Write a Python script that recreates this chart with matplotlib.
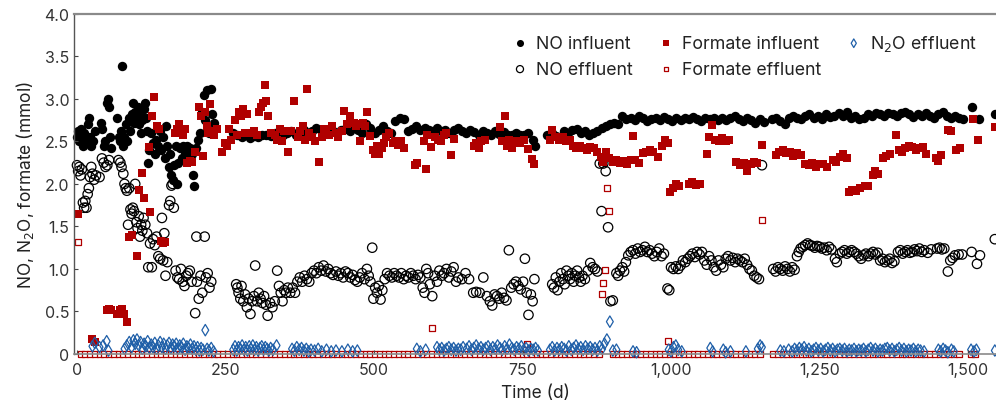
import matplotlib
matplotlib.use("Agg")
import matplotlib.pyplot as plt
from matplotlib.ticker import FuncFormatter

plt.rcParams['font.family'] = ['Inter', 'DejaVu Sans']

# NO influent
no_in_days = [0,2,4,6,8,10,12,14,16,18,20,22,24,27,30,40,42,46,48,50,52,54,56,58,
              68,70,72,74,76,78,80,82,84,88,90,92,94,96,98,100,102,104,106,108,110,112,114,116,118,
              120,122,125,128,131,133,136,139,142,145,148,150,152,155,157,159,161,163,166,168,170,
              173,176,179,182,185,188,190,193,195,197,200,204,207,210,213,216,219,222,225,228,230,
              263,270,277,284,291,298,305,312,319,326,333,340,347,354,361,368,375,382,389,396,403,
              410,417,424,431,438,445,452,459,466,473,480,487,494,501,508,515,522,529,536,543,550,
              557,564,571,578,585,592,599,606,613,620,627,634,641,648,655,662,669,676,683,690,697,
              704,711,718,725,732,739,746,753,760,767,771,
              792,799,806,813,820,827,834,841,848,855,862,869,876,883,890,897,904,911,918,925,932,
              939,946,953,960,967,974,981,988,995,1002,1009,1016,1023,1030,1037,1044,1051,1058,1065,
              1072,1079,1086,1093,1100,1107,1114,1121,1128,1135,1142,1149,1156,
              1170,1177,1184,1191,1198,1205,1212,1219,1226,1233,1240,1247,1254,1261,1268,1275,1282,
              1289,1296,1303,1310,1317,1324,1331,1338,1345,1352,1359,1366,1373,1380,1387,1394,1401,
              1408,1415,1422,1429,1436,1443,1450,1457,1464,1471,1478,1485,1492,1507,1518,1545]
no_in = [2.55,2.62,2.5,2.65,2.58,2.45,2.6,2.52,2.48,2.7,2.78,2.55,2.45,2.5,2.62,2.72,2.65,2.45,2.5,2.95,3.0,2.9,2.55,2.42,
         2.78,2.55,2.5,2.62,3.39,2.45,2.55,2.7,2.5,2.78,2.62,2.82,2.95,2.72,2.85,2.78,2.9,2.7,2.82,2.6,2.75,2.88,2.95,2.78,2.62,
         2.25,2.4,2.6,2.48,2.35,2.52,2.45,2.62,2.4,2.55,2.3,2.68,2.45,2.2,2.35,2.1,2.05,2.22,2.45,2.0,2.25,
         2.42,2.3,2.45,2.38,2.45,2.3,2.42,2.35,2.1,1.98,2.42,2.52,2.6,2.85,3.05,2.75,3.1,2.6,3.12,2.82,2.72,
         2.6,2.58,2.55,2.57,2.54,2.56,2.55,2.57,2.58,2.56,2.6,2.58,2.57,2.6,2.62,2.58,2.6,2.63,2.6,2.62,2.66,
         2.63,2.6,2.64,2.62,2.6,2.63,2.65,2.62,2.68,2.64,2.6,2.7,2.66,2.6,2.63,2.68,2.62,2.6,2.74,2.78,2.76,
         2.62,2.65,2.68,2.63,2.66,2.64,2.62,2.66,2.62,2.64,2.6,2.63,2.66,2.62,2.6,2.64,2.61,2.58,2.62,2.6,2.58,
         2.62,2.59,2.61,2.58,2.57,2.6,2.58,2.57,2.6,2.52,2.45,
         2.58,2.6,2.56,2.55,2.62,2.6,2.63,2.65,2.6,2.62,2.58,2.6,2.62,2.66,2.68,2.7,2.72,2.7,2.8,2.76,2.78,
         2.75,2.8,2.77,2.74,2.76,2.78,2.75,2.79,2.76,2.74,2.77,2.75,2.78,2.76,2.79,2.76,2.74,2.78,2.76,
         2.77,2.75,2.78,2.75,2.77,2.8,2.76,2.74,2.77,2.75,2.72,2.76,2.73,
         2.76,2.78,2.74,2.7,2.77,2.8,2.78,2.76,2.8,2.82,2.78,2.8,2.76,2.82,2.79,2.8,2.83,
         2.8,2.85,2.78,2.8,2.76,2.78,2.82,2.8,2.84,2.82,2.8,2.84,2.82,2.8,2.83,2.85,2.82,
         2.79,2.82,2.8,2.83,2.8,2.78,2.82,2.85,2.8,2.78,2.8,2.77,2.76,2.91,2.76,2.82]

# NO effluent
no_eff_days = [0,2,4,6,8,10,12,14,16,18,20,22,24,26,29,32,38,42,45,48,51,54,70,73,75,78,80,82,84,86,88,90,
               92,94,96,98,100,102,104,106,108,110,112,115,118,120,123,126,128,131,134,137,140,143,145,147,
               149,152,155,157,159,161,163,166,169,172,175,178,181,184,187,190,193,201,199,202,205,208,211,
               215,217,220,223,226,
               268,270,272,275,277,280,283,286,289,292,295,298,300,303,306,309,312,315,318,321,325,329,333,
               337,340,343,346,349,352,355,359,363,367,371,375,379,383,387,391,395,399,403,407,411,415,419,
               423,427,431,436,440,444,448,452,456,460,464,468,472,476,480,484,488,491,494,497,499,502,505,
               508,511,514,518,522,526,530,534,538,542,546,550,554,558,562,566,570,574,578,582,585,588,591,
               594,598,602,606,610,614,618,622,626,630,634,638,642,648,654,660,667,672,678,684,690,695,699,
               703,707,711,715,719,723,727,731,735,739,743,747,751,754,757,760,764,767,770,
               800,803,806,809,812,815,818,821,824,827,830,833,836,839,842,845,848,851,855,860,864,868,872,
               876,880,883,886,890,894,898,902,908,911,914,918,921,924,928,932,936,940,944,948,952,956,960,
               964,968,972,976,980,984,988,994,997,1000,1004,1008,1012,1016,1020,1024,1028,1032,1036,1040,
               1044,1048,1052,1056,1060,1064,1068,1072,1076,1080,1084,1088,1092,1096,1100,1104,1108,1112,
               1116,1120,1124,1128,1132,1136,1140,1144,1148,1153,
               1172,1176,1180,1184,1188,1192,1196,1200,1204,1208,1212,1215,1218,1222,1226,1230,1234,1238,
               1242,1246,1250,1254,1258,1262,1266,1270,1276,1279,1284,1288,1292,1296,1300,1304,1308,1312,
               1316,1320,1324,1328,1332,1336,1340,1344,1348,1352,1356,1360,1364,1368,1372,1376,1382,1386,
               1390,1394,1398,1402,1406,1410,1414,1418,1422,1426,1432,1438,1448,1452,1456,1460,1466,1470,
               1474,1478,1484,1490,1506,1515,1520,1545]
no_eff = [2.22,2.15,2.2,2.1,2.17,1.78,1.72,1.8,1.72,1.88,1.95,2.08,2.2,2.12,2.05,2.1,2.08,2.3,2.25,2.2,2.22,2.28,2.28,2.25,2.2,2.12,2.0,1.95,1.92,1.52,1.95,1.7,
          1.65,1.72,1.68,2.0,1.55,1.48,1.62,1.38,1.52,1.45,1.6,1.52,1.42,1.02,1.3,1.02,1.35,1.28,1.38,1.15,1.12,1.6,1.1,1.42,
          0.92,1.08,1.75,1.8,1.98,2.0,1.72,0.98,0.9,0.88,1.0,0.85,0.8,0.92,0.95,0.98,0.85,1.38,0.48,0.85,0.65,0.92,0.72,
          1.38,0.9,0.95,0.78,0.85,
          0.82,0.78,0.72,0.65,0.8,0.62,0.7,0.55,0.65,0.47,0.62,0.68,1.04,0.62,0.72,0.65,0.6,0.68,0.58,0.45,0.6,0.55,0.62,
          0.98,0.8,0.72,0.62,0.75,0.72,0.78,0.72,0.78,0.72,0.85,0.9,0.85,0.92,0.88,0.85,0.95,0.98,0.95,1.02,0.98,1.04,0.97,
          1.0,0.95,0.93,0.97,0.92,0.95,0.9,0.97,0.95,0.9,0.93,0.87,0.85,0.9,0.95,0.88,1.0,0.92,0.85,1.25,0.65,0.78,0.72,
          0.8,0.64,0.75,0.88,0.95,0.92,0.9,0.95,0.92,0.9,0.95,0.88,0.92,0.9,0.95,0.92,0.88,0.93,0.9,0.78,0.72,1.0,0.95,
          0.82,0.68,0.92,0.85,0.98,0.92,0.95,1.0,0.9,0.97,1.02,0.85,0.9,0.88,0.95,0.88,0.72,0.73,0.72,0.9,0.68,0.62,0.57,
          0.7,0.68,0.65,0.72,0.66,0.63,1.22,0.78,0.82,0.85,0.8,0.76,0.85,1.12,0.72,0.46,0.7,0.62,0.88,
          0.82,0.78,0.9,0.75,0.85,0.95,0.88,0.82,0.98,0.92,0.88,0.95,0.85,0.92,0.98,0.9,0.85,0.92,0.88,0.98,1.07,1.02,1.0,
          0.97,2.24,1.68,2.24,2.15,1.49,0.62,0.63,0.95,0.92,0.98,1.02,0.97,1.08,1.16,1.2,1.22,1.18,1.24,1.2,1.22,1.26,1.2,
          1.22,1.18,1.15,1.2,1.24,1.15,1.18,0.77,0.75,1.02,1.0,1.03,1.0,1.04,1.1,1.08,1.12,1.15,1.18,1.14,
          1.2,1.17,1.2,1.1,1.05,1.15,1.1,1.02,0.98,1.1,1.05,1.02,1.12,1.15,1.1,1.13,1.08,1.12,
          1.1,1.08,1.12,1.05,1.0,0.98,0.92,0.9,0.88,2.22,
          1.0,0.97,1.02,1.0,0.98,1.03,1.0,0.97,1.02,0.99,1.15,1.2,1.24,1.26,1.28,1.3,1.28,1.27,
          1.25,1.27,1.26,1.24,1.25,1.22,1.26,1.23,1.12,1.08,1.18,1.2,1.22,1.18,1.2,1.22,1.2,1.18,
          1.15,1.12,1.16,1.18,1.15,1.18,1.2,1.17,1.19,1.1,1.12,1.08,1.1,1.12,1.07,1.09,1.2,1.22,
          1.18,1.2,1.22,1.19,1.2,1.23,1.21,1.24,1.2,1.22,1.19,1.23,1.24,1.25,1.23,1.24,0.97,1.1,
          1.13,1.16,1.17,1.17,1.2,1.06,1.16,1.35]

# formate influent
fo_in_days = [2,25,30,50,54,58,68,72,76,80,84,88,92,101,104,109,112,121,123,126,130,135,138,142,145,148,
              165,168,172,175,178,182,186,190,194,198,205,208,212,216,219,221,224,227,231,235,244,249,253,
              256,260,266,270,273,276,280,283,286,292,298,303,307,310,313,316,319,322,326,333,337,341,345,
              349,355,360,365,372,376,380,384,387,391,395,400,407,412,416,420,425,430,436,440,446,450,455,
              460,466,470,474,477,481,485,488,494,498,501,505,509,513,517,521,525,532,536,541,546,550,569,
              573,584,588,590,596,602,607,612,617,622,630,635,668,672,676,680,686,712,716,720,724,728,732,
              740,746,752,760,766,770,796,800,805,812,818,824,830,835,840,846,852,858,864,870,876,882,886,
              890,896,902,908,914,920,926,932,936,940,946,952,958,964,970,978,985,990,995,998,1003,1008,
              1014,1030,1036,1042,1048,1061,1064,1069,1074,1080,1086,1092,1098,1110,1116,1122,1128,1134,
              1140,1145,1153,1176,1182,1188,1194,1200,1206,1212,1218,1226,1232,1238,1244,1250,1256,1262,
              1272,1278,1284,1290,1296,1300,1305,1312,1318,1326,1332,1340,1344,1348,1356,1362,1368,1379,
              1384,1388,1394,1400,1406,1412,1418,1424,1430,1446,1450,1454,1466,1472,1480,1486,1508,1517,1545]
fo_in = [1.65,0.18,0.14,0.52,0.53,0.52,0.47,0.52,0.53,0.47,0.38,1.38,1.4,1.15,1.93,2.13,1.83,2.43,1.67,2.8,3.02,2.68,2.65,1.33,1.3,1.32,
         2.6,2.65,2.7,2.62,2.58,2.65,2.25,2.27,2.26,2.38,2.9,2.8,2.33,2.85,2.68,2.6,2.94,2.62,2.58,2.65,2.38,2.48,2.45,
         2.65,2.52,2.75,2.58,2.85,2.8,2.88,2.6,2.82,2.6,2.62,2.58,2.85,2.9,2.95,3.16,2.98,2.8,2.6,2.58,2.52,2.65,2.5,
         2.62,2.38,2.62,2.98,2.55,2.62,2.68,2.52,3.12,2.6,2.55,2.5,2.26,2.55,2.65,2.62,2.58,2.68,2.6,2.55,2.62,2.86,2.7,
         2.8,2.72,2.68,2.7,2.5,2.72,2.68,2.85,2.56,2.4,2.35,2.45,2.35,2.42,2.48,2.55,2.6,2.48,2.5,2.46,2.5,2.42,2.22,
         2.25,2.5,2.18,2.58,2.43,2.55,2.52,2.5,2.57,2.6,2.34,2.53,2.45,2.48,2.42,2.5,2.52,2.67,2.5,2.8,2.45,2.52,2.42,
         2.5,2.48,2.52,2.41,2.29,2.23,2.52,2.63,2.55,2.52,2.55,2.5,2.52,2.45,2.42,2.45,2.42,2.4,2.44,2.42,2.38,2.32,2.26,
         2.38,2.3,2.26,2.28,2.25,2.27,2.24,2.28,2.56,2.28,2.25,2.36,2.38,2.4,2.37,2.32,2.45,2.52,2.48,1.91,1.95,2.0,
         1.98,2.0,2.02,1.99,2.0,2.35,2.55,2.69,2.52,2.5,2.54,2.5,2.52,2.26,2.22,2.25,2.15,2.24,
         2.26,2.25,2.46,2.34,2.38,2.4,2.36,2.38,2.33,2.36,2.34,2.24,2.22,2.25,2.2,2.23,2.24,2.2,
         2.28,2.26,2.32,2.35,2.3,1.91,1.93,1.92,1.95,1.98,1.97,2.1,2.15,2.12,2.3,2.33,2.35,2.57,
         2.4,2.38,2.42,2.45,2.43,2.4,2.42,2.44,2.35,2.3,2.27,2.34,2.64,2.62,2.4,2.42,2.76,2.52,2.67]

# formate effluent: days measured at zero, and the few non-zero values
fo_eff_zero_days = [6,14,22,30,38,46,54,62,70,78,86,94,102,110,118,126,134,142,150,158,166,174,182,190,198,206,214,
                    222,230,238,246,254,262,270,278,286,294,302,310,318,326,334,342,350,358,366,374,382,390,398,406,
                    414,422,430,438,446,454,462,470,478,486,494,502,510,518,526,534,542,550,558,566,574,582,590,598,
                    606,614,622,630,638,646,654,662,670,678,686,694,702,710,718,726,734,742,750,758,766,774,782,790,
                    798,806,814,822,830,838,846,854,862,870,878,902,910,918,926,934,942,950,958,966,974,982,990,998,
                    1006,1014,1022,1030,1038,1046,1054,1062,1070,1078,1086,1094,1102,1110,1118,1126,1134,1142,1150,
                    1172,1180,1188,1196,1204,1212,1220,1228,1236,1244,1252,1260,1268,1276,1284,1292,1300,1308,1316,
                    1324,1332,1340,1348,1356,1364,1372,1380,1388,1396,1404,1412,1420,1428,1436,1444,1452,1460,1468,
                    1476,1484,1505,1512]
fo_eff_nz_days = [2,598,757,884,886,888,892,896,995,1153]
fo_eff_nz = [1.32,0.31,0.12,0.71,0.84,0.99,1.95,1.68,0.15,1.58]
fo_eff_days = fo_eff_zero_days + fo_eff_nz_days
fo_eff = [0] * len(fo_eff_zero_days) + fo_eff_nz

# N2O effluent
n2o_days = [26,30,38,44,50,53,80,84,88,92,95,98,101,104,107,110,113,116,119,122,125,128,131,134,137,140,143,146,
            149,152,155,158,161,164,167,170,173,176,179,182,185,188,191,194,197,200,203,206,209,212,216,219,222,
            226,230,263,266,269,272,275,278,281,284,287,290,293,296,299,302,305,308,311,314,317,320,323,326,330,
            336,362,366,370,374,378,382,386,390,394,400,406,412,420,428,436,446,456,464,472,572,578,587,606,610,
            614,618,622,626,630,634,638,642,646,650,656,660,664,668,672,676,680,684,688,692,696,700,704,708,712,
            716,720,724,728,732,736,740,744,748,752,756,760,764,768,772,776,796,800,804,808,812,816,820,824,828,
            832,836,840,844,848,852,856,860,864,868,872,876,880,884,888,892,897,902,908,936,942,996,1000,1004,
            1008,1012,1018,1066,1070,1088,1092,1100,1126,1146,1150,1153,1184,1190,1198,1204,1208,1212,1216,1220,
            1224,1228,1232,1236,1240,1244,1248,1252,1256,1260,1264,1268,1272,1276,1280,1284,1288,1292,1296,1300,
            1304,1308,1312,1316,1320,1324,1328,1332,1336,1340,1344,1348,1352,1356,1360,1364,1368,1372,1376,1380,
            1384,1388,1392,1396,1400,1404,1408,1412,1416,1420,1426,1450,1454,1458,1462,1466,1472,1476,1505,1510,
            1514,1545]
n2o = [0.09,0.13,0.08,0.1,0.15,0.04,0.06,0.1,0.14,0.08,0.16,0.12,0.17,0.1,0.14,0.06,0.12,0.09,0.15,0.07,0.11,0.08,0.13,0.06,0.1,0.14,0.08,0.12,
       0.06,0.1,0.13,0.07,0.11,0.09,0.12,0.06,0.1,0.08,0.12,0.05,0.09,0.07,0.11,0.06,0.09,0.05,0.08,0.04,0.07,0.05,0.28,0.06,0.04,
       0.07,0.03,0.05,0.09,0.04,0.08,0.06,0.1,0.05,0.08,0.04,0.09,0.06,0.1,0.05,0.08,0.04,0.07,0.09,0.05,0.08,0.06,0.04,0.07,0.05,
       0.1,0.06,0.04,0.08,0.05,0.07,0.04,0.06,0.03,0.05,0.04,0.06,0.03,0.05,0.03,0.04,0.03,0.05,0.03,0.04,0.06,0.03,0.05,0.08,0.05,
       0.07,0.04,0.06,0.08,0.05,0.07,0.04,0.06,0.05,0.08,0.06,0.09,0.05,0.07,0.1,0.06,0.08,0.05,0.07,0.09,0.05,0.08,0.06,0.1,0.07,
       0.05,0.09,0.06,0.11,0.07,0.05,0.08,0.06,0.09,0.05,0.07,0.04,0.06,0.05,0.07,0.04,0.05,0.08,0.04,0.07,0.05,0.08,0.06,0.04,0.09,
       0.05,0.07,0.1,0.06,0.08,0.05,0.09,0.06,0.08,0.05,0.07,0.04,0.09,0.06,0.12,0.17,0.38,0.04,0.05,0.03,0.02,0.05,0.03,0.08,
       0.1,0.05,0.03,0.07,0.03,0.05,0.02,0.03,0.03,0.06,0.1,0.08,0.04,0.03,0.05,0.03,0.06,0.04,0.07,0.05,
       0.08,0.04,0.06,0.03,0.05,0.07,0.04,0.06,0.03,0.05,0.07,0.04,0.06,0.03,0.05,0.06,0.04,0.06,0.03,0.05,
       0.04,0.06,0.03,0.05,0.04,0.06,0.03,0.05,0.07,0.04,0.06,0.03,0.05,0.04,0.06,0.07,0.04,0.06,0.03,0.05,
       0.07,0.04,0.06,0.03,0.05,0.04,0.06,0.03,0.05,0.04,0.03,0.05,0.03,0.06,0.04,0.02,0.05,0.03,0.05,0.03,
       0.05,0.04]

red = '#b00000'
blue = '#1f5fa8'

fig = plt.figure(figsize=(9.96, 4.02), dpi=100)
ax = fig.add_axes([0.0743, 0.117, 0.9257, 0.846])

ax.scatter(no_in_days, no_in, s=46, c='black', marker='o', lw=0, clip_on=False, label='NO influent')
ax.scatter(no_eff_days, no_eff, s=46, facecolors='none', edgecolors='black', lw=0.9, marker='o',
           clip_on=False, label='NO effluent')
ax.scatter(fo_in_days, fo_in, s=26, c=red, marker='s', lw=0, clip_on=False, label='Formate influent')
ax.scatter(fo_eff_days, fo_eff, s=14, facecolors='white', edgecolors=red, lw=0.9, marker='s',
           clip_on=False, label='Formate effluent')
ax.scatter(n2o_days, n2o, s=34, facecolors='none', edgecolors=blue, lw=0.9, marker='d',
           clip_on=False, label='N$_2$O effluent')

ax.set_xlim(-5, 1547)
ax.set_ylim(0, 4.0)
ax.set_xticks([0, 250, 500, 750, 1000, 1250, 1500])
ax.set_yticks([0, 0.5, 1.0, 1.5, 2.0, 2.5, 3.0, 3.5, 4.0])
ax.xaxis.set_major_formatter(FuncFormatter(lambda v, p: f'{int(v):,}'))
ax.yaxis.set_major_formatter(FuncFormatter(lambda v, p: '0' if v == 0 else f'{v:.1f}'))
ax.tick_params(axis='both', direction='in', length=3, width=0.8, colors='#444444',
               labelcolor='#333333', labelsize=11.5)
ax.tick_params(axis='x', pad=6)

ax.spines['right'].set_visible(False)
ax.spines['top'].set_color('#8a8a8a')
ax.spines['top'].set_linewidth(1.6)
ax.spines['bottom'].set_color('#8a8a8a')
ax.spines['bottom'].set_linewidth(1.2)
ax.spines['left'].set_color('#555555')
ax.spines['left'].set_linewidth(1.0)

ax.set_xlabel('Time (d)', fontsize=12.5, color='#222222', labelpad=5)
ax.set_ylabel('NO, N$_2$O, formate (mmol)', fontsize=12.5, color='#222222', labelpad=6)

leg = ax.legend(ncol=3, loc='upper right', bbox_to_anchor=(0.987, 0.965), frameon=False,
                fontsize=12.8, handlelength=0.9, handletextpad=0.45, columnspacing=1.4,
                labelspacing=0.5, markerscale=0.75, borderaxespad=0.0)
for t in leg.get_texts():
    t.set_color('#222222')

fig.savefig('out.png', dpi=100)
